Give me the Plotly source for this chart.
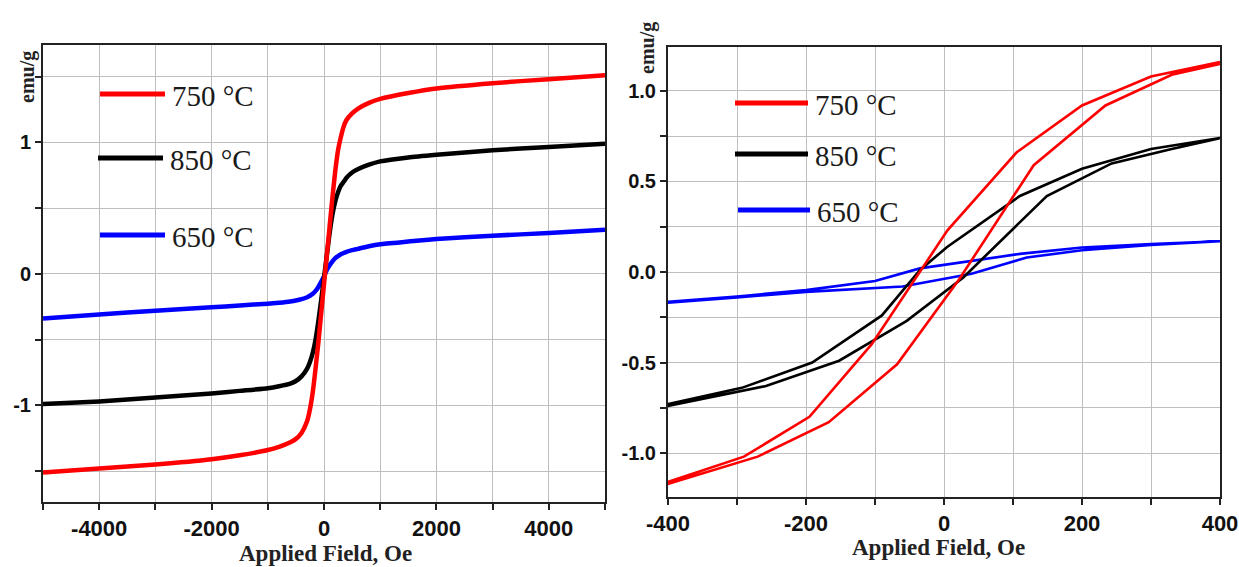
import plotly.graph_objects as go

W, H = 1239, 567

# ---------- data: left panel (wide field sweep) ----------
field_wide = [-5000, -4000, -3000, -2000, -1500, -1000, -800, -600, -500, -400, -300, -250, -200, -150, -100, -50,
              0, 50, 100, 150, 200, 250, 300, 350, 400, 500, 600, 800, 1000, 1500, 2000, 3000, 4000, 5000]
m750_wide = [-1.51, -1.48, -1.45, -1.41, -1.38, -1.34, -1.315, -1.28, -1.255, -1.21, -1.12, -1.03, -0.90, -0.72, -0.52, -0.30,
             -0.08, 0.14, 0.36, 0.58, 0.78, 0.94, 1.04, 1.12, 1.17, 1.22, 1.255, 1.30, 1.33, 1.375, 1.41, 1.45, 1.48, 1.51]
m850_wide = [-0.99, -0.97, -0.94, -0.91, -0.89, -0.87, -0.855, -0.835, -0.815, -0.78, -0.72, -0.67, -0.60, -0.50, -0.36, -0.20,
             -0.03, 0.14, 0.31, 0.45, 0.55, 0.62, 0.67, 0.70, 0.73, 0.77, 0.795, 0.83, 0.855, 0.885, 0.905, 0.94, 0.965, 0.99]
m650_wide = [-0.34, -0.31, -0.28, -0.255, -0.24, -0.228, -0.22, -0.21, -0.203, -0.193, -0.178, -0.167, -0.152, -0.13, -0.10, -0.06,
             -0.02, 0.03, 0.065, 0.095, 0.12, 0.135, 0.148, 0.158, 0.167, 0.18, 0.19, 0.21, 0.225, 0.245, 0.265, 0.29, 0.31, 0.335]

# ---------- data: right panel (low-field loops) ----------
h750_desc = [400, 300, 200, 105, 5, -40, -105, -195, -290, -400]
m750_desc = [1.16, 1.08, 0.92, 0.66, 0.23, -0.03, -0.40, -0.80, -1.02, -1.16]
h750_asc = [-400, -270, -167, -68, 22, 130, 234, 330, 400]
m750_asc = [-1.17, -1.02, -0.83, -0.51, -0.04, 0.59, 0.92, 1.09, 1.15]

h850_desc = [400, 300, 200, 110, 5, -35, -90, -191, -293, -400]
m850_desc = [0.74, 0.68, 0.57, 0.42, 0.14, 0.01, -0.24, -0.50, -0.64, -0.73]
h850_asc = [-400, -258, -152, -54, 28, 149, 243, 330, 400]
m850_asc = [-0.74, -0.63, -0.49, -0.27, -0.03, 0.42, 0.60, 0.68, 0.74]

h650_desc = [400, 300, 200, 110, -35, -100, -200, -300, -400]
m650_desc = [0.17, 0.155, 0.135, 0.10, 0.02, -0.05, -0.10, -0.135, -0.165]
h650_asc = [-400, -300, -200, -60, 40, 120, 200, 300, 400]
m650_asc = [-0.17, -0.14, -0.11, -0.08, -0.01, 0.08, 0.12, 0.15, 0.17]

legend_labels = ["750 °C", "850 °C", "650 °C"]
legend_colors = ["#ff0000", "#000000", "#0000ff"]

x_title = "Applied Field, Oe"
y_title = "emu/g"

xt_left = [-4000, -2000, 0, 2000, 4000]
yt_left = [-1, 0, 1]
xt_right = [-400, -200, 0, 200, 400]
yt_right = [-1.0, -0.5, 0.0, 0.5, 1.0]


def px(x):
    return x / W


def py(y):
    return 1 - y / H


fig = go.Figure()

# left panel traces (blue, black, red so red is on top)
for m, c in [(m650_wide, "#0000ff"), (m850_wide, "#000000"), (m750_wide, "#ff0000")]:
    fig.add_trace(go.Scatter(x=field_wide, y=m, mode="lines",
                             line=dict(color=c, width=4.5, shape="spline", smoothing=0.5),
                             xaxis="x", yaxis="y", showlegend=False))

# right panel loops
for hd, md, ha, ma, c in [(h650_desc, m650_desc, h650_asc, m650_asc, "#0000ff"),
                          (h850_desc, m850_desc, h850_asc, m850_asc, "#000000"),
                          (h750_desc, m750_desc, h750_asc, m750_asc, "#ff0000")]:
    fig.add_trace(go.Scatter(x=hd + ha, y=md + ma, mode="lines",
                             line=dict(color=c, width=2.6),
                             xaxis="x2", yaxis="y2", showlegend=False))

grid = "#bebebe"
tickfont_x = dict(family="Liberation Sans", size=22, color="#111", weight="bold")
tickfont_y = dict(family="Liberation Sans", size=20, color="#111", weight="bold")

common = dict(showline=True, linecolor="#222", linewidth=2, mirror=True, automargin=False,
              showgrid=True, gridcolor=grid, gridwidth=1, zeroline=False,
              ticks="outside", ticklen=6, tickwidth=1.5, tickcolor="#222")


def fmt(v, dec):
    return f"{v:.{dec}f}"


fig.update_layout(
    template="none",
    width=W, height=H,
    margin=dict(l=0, r=0, t=0, b=0),
    paper_bgcolor="white", plot_bgcolor="white",
    showlegend=False,
    xaxis=dict(domain=[px(43), px(605)], range=[-5000, 5000],
               tickvals=xt_left, ticktext=[fmt(v, 0) for v in xt_left], tickfont=tickfont_x,
               minor=dict(dtick=1000, ticks="outside", ticklen=6, tickcolor="#222",
                          showgrid=True, gridcolor=grid),
               anchor="y", **common),
    yaxis=dict(domain=[py(502), py(45)], range=[-1.735, 1.74],
               tickvals=yt_left, ticktext=[fmt(v, 0) for v in yt_left], tickfont=tickfont_y,
               minor=dict(dtick=0.5, ticks="outside", ticklen=6, tickcolor="#222",
                          showgrid=True, gridcolor=grid),
               anchor="x", **common),
    xaxis2=dict(domain=[px(668), px(1220)], range=[-400, 400],
                tickvals=xt_right, ticktext=[fmt(v, 0) for v in xt_right], tickfont=tickfont_x,
                minor=dict(dtick=100, ticks="outside", ticklen=6, tickcolor="#222",
                           showgrid=True, gridcolor=grid),
                anchor="y2", **common),
    yaxis2=dict(domain=[py(497), py(47)], range=[-1.243, 1.243],
                tickvals=yt_right, ticktext=[fmt(v, 1) for v in yt_right],
                tickfont=tickfont_y,
                minor=dict(dtick=0.25, ticks="outside", ticklen=6, tickcolor="#222",
                           showgrid=True, gridcolor=grid),
                anchor="x2", **common),
)

shapes = []
annotations = []

# legends
left_leg = [(100, 165, 94), (98, 163, 158), (100, 165, 235)]
right_leg = [(735, 808, 103), (735, 808, 154), (738, 810, 210)]
for legs in [left_leg, right_leg]:
    for (x0, x1, y), lab, col in zip(legs, legend_labels, legend_colors):
        shapes.append(dict(type="line", xref="paper", yref="paper",
                           x0=px(x0), x1=px(x1), y0=py(y), y1=py(y),
                           line=dict(color=col, width=5)))
        annotations.append(dict(x=px(x1 + 5), y=py(y + 2), xref="paper", yref="paper",
                                text=lab, showarrow=False, xanchor="left", yanchor="middle",
                                font=dict(family="Liberation Serif", size=29, color="#1a1a1a")))

# axis titles
for x, y in [(325, 553), (938, 547)]:
    annotations.append(dict(x=px(x), y=py(y), xref="paper", yref="paper", text=x_title,
                            showarrow=False, xanchor="center", yanchor="middle",
                            font=dict(family="Liberation Serif", size=23, color="#222", weight="bold")))
for x, y in [(28, 77), (647, 48)]:
    annotations.append(dict(x=px(x), y=py(y), xref="paper", yref="paper", text=y_title,
                            showarrow=False, xanchor="center", yanchor="middle", textangle=-90,
                            font=dict(family="Liberation Serif", size=20, color="#222", weight="bold")))

fig.update_layout(shapes=shapes, annotations=annotations)

fig.write_html("out.html")
